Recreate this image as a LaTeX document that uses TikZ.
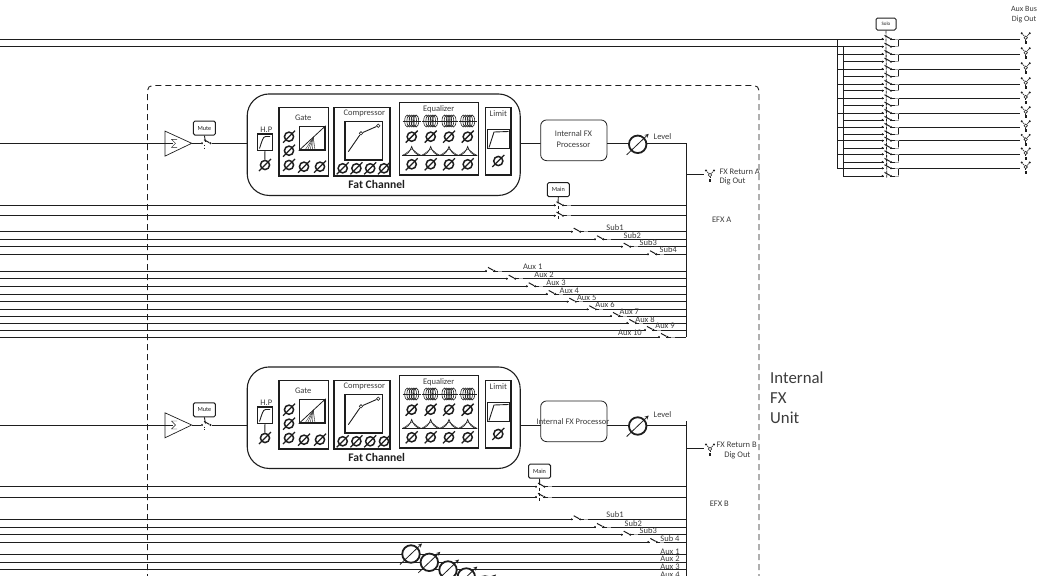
\documentclass[tikz,border=0pt]{standalone}
\usepackage{fontspec}
\setmainfont{Carlito}
\usepackage{xcolor}
\definecolor{ink}{HTML}{1E1E1E}
\definecolor{txt}{HTML}{3C3C3C}

\tikzset{
  bus/.style={line width=0.9pt, draw=ink},
  lbl/.style={font=\fontsize{8.5}{9}\selectfont, text=txt, inner sep=0pt},
  tiny lbl/.style={font=\fontsize{6.2}{7}\selectfont, text=ink, inner sep=0pt},
  panel/.style={draw=ink, line width=1.2pt, inner sep=0pt},
  ctl/.style={draw=ink, line width=1pt, rounded corners=1.5pt, minimum width=22pt, minimum height=14pt, tiny lbl},
  knob/.style={circle, draw=ink, line width=1.5pt, minimum size=9.2pt, inner sep=0pt},
  bigknob/.style={circle, draw=ink, fill=white, line width=1.8pt, minimum size=17.5pt, inner sep=0pt},
  sdot/.style={circle, fill=ink, minimum size=2.2pt, inner sep=0pt},
  xc/.style={circle, draw=ink, line width=0.6pt, minimum size=3.4pt, inner sep=0pt},
}

\newcommand{\knob}[3]{
  \node[knob] (#1) at (#2,#3) {};
  \draw[ink, line width=1.3pt] (#1) +(-6,6) -- +(6,-6);
}
\newcommand{\level}[3]{
  \node[bigknob] (#1) at (#2,#3) {};
  \draw[->,>=stealth, ink, line width=0.8pt] (#1) +(-11,10.5) -- +(11,-10.5);
}
% switch on a bus
\newcommand{\swt}[3]{
  \node[sdot] (#1a) at (#2,#3) {};
  \node[sdot] (#1b) at (#2+8.5,#3) {};
  \draw[white, line width=1.8pt] (#1a) -- (#1b);
  \draw[white, line width=1.4pt, opacity=0.6] (#2+12,#3) -- (#2+16,#3);
  \draw[ink, line width=1pt] (#1b) -- +(-6.5,-3.6);
}
\newcommand{\xlr}[3]{
  \node[xc] (#1) at (#2,#3) {};
  \node[sdot] (#1l) at (#2-4,#3-4.5) {};
  \node[sdot] (#1r) at (#2+4,#3-4.5) {};
  \node[fill=ink, minimum width=2.2pt, minimum height=3pt, inner sep=0pt] (#1d) at (#2,#3+5) {};
  \draw[ink, line width=0.5pt] (#1) -- (#1l);
  \draw[ink, line width=0.5pt] (#1) -- (#1r);
  \draw[ink, line width=0.5pt] (#1) -- (#1d);
}

% the rounded box with its dynamics and eq sections
\newcommand{\fatchannel}[2]{
\begin{scope}[shift={(0,#2)}]
  \node[panel, line width=1.1pt, rounded corners=22pt, minimum width=273pt, minimum height=101.5pt] (#1pill) at (383.7,144.7) {};
  \node[lbl, font=\fontsize{11.6}{12}\selectfont\bfseries, text=ink] (#1fat) at (376.7,184.3) {Fat Channel};
  % high pass
  \node[panel, minimum width=15pt, minimum height=16.7pt] (#1hp) at (264.8,142.3) {};
  \node[lbl] (#1hpt) at (266.3,130) {H.P};
  \knob{#1hpk}{265}{165}
  \draw[bus] (#1hp.south) -- (#1hpk);
  \draw[ink, line width=0.9pt] (259.5,148.5) .. controls (262,141) and (263,136.5) .. (265.5,136.5) -- (270,136.5);
  % gate
  \node[panel, minimum width=49.3pt, minimum height=68.7pt] (#1gate) at (303.6,141.6) {};
  \node[lbl] (#1gatet) at (303.3,117.3) {Gate};
  \node[panel, minimum width=25.7pt, minimum height=23.7pt] (#1gg) at (312.2,138.2) {};
  \draw[ink, line width=0.8pt] (#1gg.south west) -- (#1gg.north east);
  \foreach \fx in {305,307.5,310,312.5,315}
    \draw[ink, line width=0.4pt] (313.3,137.5) -- (\fx,150);
  \foreach \ky [count=\i] in {136.7,150.7,165}{
    \knob{#1ga\i}{289}{\ky}
  }
  \foreach \kx [count=\i] in {304,320}{
    \knob{#1gb\i}{\kx}{166.7}
  }
  % compressor
  \node[panel, minimum width=56pt, minimum height=68.7pt] (#1comp) at (362,141.6) {};
  \node[lbl] (#1compt) at (364.3,113.3) {Compressor};
  \node[panel, minimum width=37.7pt, minimum height=38.3pt] (#1cg) at (363.8,140.8) {};
  \node[xc] (#1cp) at (361,133.3) {};
  \node[xc] (#1cq) at (378.3,125.7) {};
  \coordinate (#1cs) at (348.3,151.7);
  \draw[ink, line width=0.9pt] (#1cs) -- (#1cp) -- (#1cq);
  \foreach \kx [count=\i] in {342.7,356.4,370.2,384}{
    \knob{#1ck\i}{\kx}{168.3}
  }
  % equalizer
  \node[panel, minimum width=79pt, minimum height=72.7pt] (#1eq) at (438.8,138.7) {};
  \node[lbl] (#1eqt) at (438.7,109.3) {Equalizer};
  \foreach \ex [count=\i] in {411.7,430.7,449,467.7}{
    \draw[ink, line width=0.6pt] (\ex-9,121) -- (\ex+9,121);
    \foreach \dx in {-4.4,-2.2,0,2.2,4.4}
      \draw[ink, line width=0.6pt] (\ex+\dx,121) ellipse (2.6 and 6);
    \knob{#1ea\i}{\ex}{136.7}
    \draw[ink, line width=0.7pt] (\ex-9.5,155.5) .. controls (\ex-4,155) and (\ex-1.5,151) .. (\ex,146.5)
      .. controls (\ex+1.5,151) and (\ex+4,155) .. (\ex+9.5,155.5);
    \draw[ink, line width=0.4pt] (\ex-9.5,155.5) .. controls (\ex-5,153.5) and (\ex-2.5,150) .. (\ex,149)
      .. controls (\ex+2.5,150) and (\ex+5,153.5) .. (\ex+9.5,155.5);
    \draw[ink, line width=0.4pt] (\ex-9.5,155.5) -- (\ex+9.5,155.5);
    \knob{#1eb\i}{\ex}{164.3}
  }
  % limiter
  \node[panel, minimum width=25.3pt, minimum height=67.3pt] (#1lim) at (498.3,141.3) {};
  \node[lbl] (#1limt) at (498.3,114) {Limit};
  \node[panel, minimum width=21.6pt, minimum height=19pt] (#1lg) at (498.5,138.8) {};
  \draw[ink, line width=0.9pt] (489,147.5) -- (494,132) -- (508.5,131.5);
  \knob{#1limk}{498.3}{161}
\end{scope}
}

% summing amp, mute, and the run up to the level knob
\newcommand{\inputstrip}[2]{
  \coordinate (#1in) at (0,#2);
  \coordinate (#1ins) at (173,#2);
  \coordinate (#1tip) at (191.7,#2);
  \coordinate (#1pl) at (247.3,#2);
  \coordinate (#1pr) at (520,#2);
  \coordinate (#1px) at (540.7,#2);
  \coordinate (#1po) at (607,#2);
  \coordinate (#1end) at (686,#2);
  \draw[bus] (#1in) -- (#1ins);
  \draw[ink, line width=0.7pt] (165,#2-12.2) -- (#1tip) -- (165,#2+12.8) -- cycle;
  \draw[ink, line width=0.4pt] (177,#2-4) -- (171.5,#2-4) -- (175.5,#2) -- (171.5,#2+4) -- (177,#2+4);
  \swt{#1m}{202}{#2}
  \draw[bus] (#1tip) -- (#1ma);
  \draw[bus] (#1mb) -- (#1pl);
  \node[ctl] (#1mute) at (204.4,#2-15.2) {Mute};
  \draw[bus] (#1mute.south) -- (205.5,#2-1.5);
  \draw[ink, line width=0.9pt, dotted] (204.5,#2+1.5) -- (204.5,#2+6);
  \draw[bus] (#1pr) -- (#1px);
  \draw[bus] (#1po) -- (#1end);
  \level{#1lev}{637.7}{#2+1}
}

\begin{document}
\begin{tikzpicture}[x=1pt, y=-1pt]
  \useasboundingbox (0,0) rectangle (1042,581);
  \begin{scope}
  \clip (0,0) rectangle (1042,575.5);

  % unit outline
  \draw[ink, line width=0.9pt, dash pattern=on 6pt off 4pt, rounded corners=5pt]
    (147.5,590) -- (147.5,85.5) -- (759,85.5) -- (759,590);
  \node[lbl, font=\fontsize{16.8}{17}\selectfont, anchor=west] (IU) at (770,378) {Internal};
  \node[lbl, font=\fontsize{16.8}{17}\selectfont, anchor=west] (IF) at (770,398) {FX};
  \node[lbl, font=\fontsize{16.8}{17}\selectfont, anchor=west] (IN) at (770,418) {Unit};

  % mix buses at the top
  \coordinate (TA) at (0,39);
  \coordinate (TB) at (0,46.7);
  \coordinate (VA) at (837,39);
  \coordinate (VB) at (843,46.7);
  \coordinate (VAe) at (837,168.3);
  \coordinate (VBe) at (843,176);
  \draw[bus] (TA) -- (VA);
  \draw[bus] (TB) -- (VB);
  \draw[bus] (VA) -- (VAe);
  \draw[bus] (VB) -- (VBe);
  \foreach \ya/\yb [count=\i] in {39/46.7,54/61.7,69/76.7,84/90.7,98.3/105.7,113/120,127/134.3,140.7/148,154.3/162,168.3/176}{
    \coordinate (RA\i) at (837,\ya);
    \coordinate (RB\i) at (843,\yb);
    \coordinate (RC\i) at (898,\yb);
    \coordinate (RD\i) at (898,\ya);
    \coordinate (RE\i) at (1020,\ya);
    \draw[bus] (RA\i) -- (RE\i);
    \draw[bus] (RB\i) -- (RC\i) -- (RD\i);
    \swt{SA\i}{882.5}{\ya}
    \swt{SB\i}{882.5}{\yb}
    \xlr{X\i}{1025.7}{\ya-1.3}
  }
  \node[ctl, minimum width=20pt, minimum height=12pt, font=\fontsize{5}{5}\selectfont] (Solo) at (886,24) {Solo};
  \coordinate (SoloE) at (886.7,178);
  \draw[ink, line width=0.8pt, dash pattern=on 3pt off 1pt] (Solo.south) -- (SoloE);
  \node[lbl, font=\fontsize{8}{8}\selectfont] (AB) at (1024,9.3) {Aux Bus};
  \node[lbl, font=\fontsize{8}{8}\selectfont] (DO) at (1024,19.3) {Dig Out};

  % upper channel
  \inputstrip{U}{143.3}
  \fatchannel{A}{0}
  \node[draw=ink, line width=0.8pt, rounded corners=6pt, fill=white, minimum width=66.3pt, minimum height=40.7pt] (UP) at (573.8,140.3) {};
  \node[lbl] (UPa) at (573.5,134) {Internal FX};
  \node[lbl] (UPb) at (573.5,144.5) {Processor};
  \node[lbl, anchor=west] (UL) at (653.5,137) {Level};
  \coordinate (UBe) at (686,337);
  \coordinate (UXa) at (704,174);
  \draw[bus] (Uend) -- (UBe);
  \draw[bus] (686,174) -- (UXa);
  \xlr{UX}{710}{175}
  \node[lbl, anchor=west] (URa) at (719.3,171.7) {FX Return A};
  \node[lbl, anchor=west] (URb) at (719.3,181.5) {Dig Out};
  \node[lbl] (UE) at (721.7,220) {EFX A};

  \foreach \y [count=\i] in {205.3,215.7}{
    \coordinate (UMl\i) at (0,\y);
    \coordinate (UMr\i) at (686,\y);
    \draw[bus] (UMl\i) -- (UMr\i);
    \swt{UMs\i}{554.5}{\y}
  }
  \node[ctl] (UMain) at (558.3,189.7) {Main};
  \draw[bus] (UMain.south) -- (558,203.5);
  \draw[ink, line width=0.9pt, densely dashed] (558,206) -- (558,220);

  \foreach \y/\sx/\lx/\ly/\t [count=\i] in {231.7/571.7/615/227.3/Sub1,239.3/595/632.3/235.3/Sub2,246.7/621.7/648.3/243/Sub3,254.3/648/668.3/250/Sub4}{
    \coordinate (USl\i) at (0,\y);
    \coordinate (USr\i) at (686,\y);
    \draw[bus] (USl\i) -- (USr\i);
    \swt{USs\i}{\sx}{\y}
    \node[lbl] (USt\i) at (\lx,\ly) {\t};
  }
  \foreach \y/\sx/\lx/\ly/\t [count=\i] in {271/486/532.7/266.3/Aux 1,278.7/506.7/544/274.3/Aux 2,286.3/526.7/556/282.3/Aux 3,294/546.7/569.3/290.3/Aux 4,301.7/567.3/586.7/298/Aux 5,309.3/587.3/605/305/Aux 6,316/611/629.3/312.2/Aux 7,323/627.3/645/319.5/Aux 8,330/645/665/326/Aux 9,337/659/630/333/Aux 10}{
    \coordinate (UAl\i) at (0,\y);
    \coordinate (UAr\i) at (686,\y);
    \draw[bus] (UAl\i) -- (UAr\i);
    \swt{UAs\i}{\sx}{\y}
    \node[lbl] (UAt\i) at (\lx,\ly) {\t};
  }

  % lower channel
  \inputstrip{L}{425}
  \fatchannel{B}{273}
  \node[draw=ink, line width=0.8pt, rounded corners=6pt, minimum width=66.3pt, minimum height=40.7pt] (LP) at (573.8,421.3) {};
  \node[lbl] (LPa) at (573,422) {Internal FX Processor};
  \node[lbl, anchor=west] (LL) at (653.5,415) {Level};
  \coordinate (LBt) at (686,421);
  \coordinate (LBe) at (686,590);
  \coordinate (LXa) at (704,448.3);
  \draw[bus] (LBt) -- (LBe);
  \draw[bus] (686,448.3) -- (LXa);
  \xlr{LX}{710}{449}
  \node[lbl] (LRa) at (736.7,445) {FX Return B};
  \node[lbl] (LRb) at (737.3,455.3) {Dig Out};
  \node[lbl] (LE) at (719.3,503.3) {EFX B};

  \foreach \y [count=\i] in {486.7,497}{
    \coordinate (LMl\i) at (0,\y);
    \coordinate (LMr\i) at (686,\y);
    \draw[bus] (LMl\i) -- (LMr\i);
    \swt{LMs\i}{536}{\y}
  }
  \node[ctl] (LMain) at (539.5,471.2) {Main};
  \draw[bus] (LMain.south) -- (539.7,485);
  \draw[ink, line width=0.9pt, densely dashed] (539.7,487.5) -- (539.7,501);

  \foreach \y/\sx/\lx/\ly/\t [count=\i] in {519.3/571.7/615/515/Sub1,527/595/633.3/523.3/Sub2,534.7/621.7/648.3/530.3/Sub3,542/648.3/670/538.3/Sub 4}{
    \coordinate (LSl\i) at (0,\y);
    \coordinate (LSr\i) at (686,\y);
    \draw[bus] (LSl\i) -- (LSr\i);
    \swt{LSs\i}{\sx}{\y}
    \node[lbl] (LSt\i) at (\lx,\ly) {\t};
  }
  \foreach \y/\ly/\t [count=\i] in {554.3/551.3/Aux 1,562/559/Aux 2,569.7/566.7/Aux 3,577/574.3/Aux 4}{
    \coordinate (LAl\i) at (0,\y);
    \coordinate (LAr\i) at (686,\y);
    \draw[bus] (LAl\i) -- (LAr\i);
    \node[lbl] (LAt\i) at (670,\ly) {\t};
  }
  \foreach \kx/\ky [count=\i] in {411/554,429.3/562.3,448/570,466.3/577,485/585}{
    \level{LAk\i}{\kx}{\ky}
  }
  \end{scope}
\end{tikzpicture}
\end{document}
